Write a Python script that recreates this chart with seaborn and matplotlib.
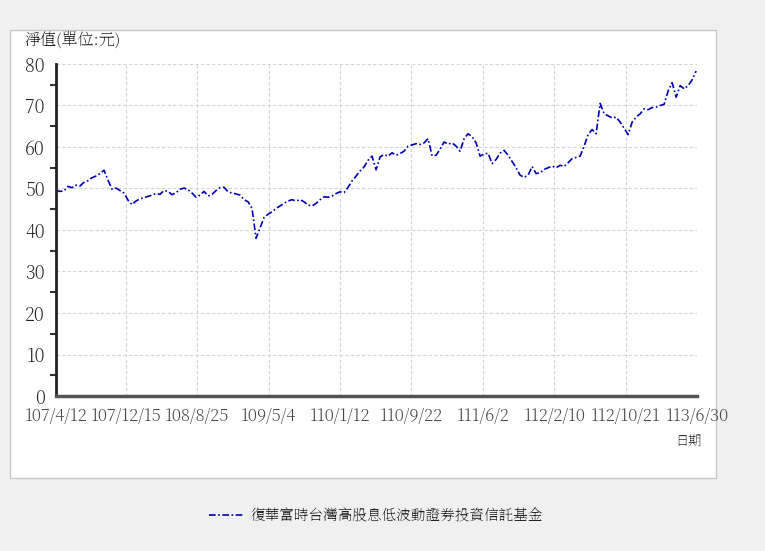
import numpy as np
import pandas as pd
import matplotlib
matplotlib.use("Agg")
import matplotlib.pyplot as plt
import matplotlib.patches as patches
from matplotlib.ticker import MultipleLocator
import seaborn as sns

# net asset value, evenly spaced in time
nav = [
    49.6, 49.3, 49.4, 50.5, 50.2, 50.8, 50.6, 51.5, 51.9, 52.6,
    53.0, 53.6, 54.4, 52.0, 49.8, 50.1, 49.5, 48.9, 47.2, 46.1,
    47.0, 47.5, 47.8, 48.1, 48.4, 48.8, 48.6, 49.5, 49.3, 48.5,
    49.0, 49.8, 50.1, 49.7, 48.9, 47.9, 48.4, 49.3, 48.2, 48.6,
    49.5, 50.2, 50.3, 49.2, 48.9, 48.7, 48.4, 47.3, 46.8, 45.2,
    38.0, 40.5, 43.0, 43.8, 44.4, 45.2, 45.8, 46.4, 47.0, 47.3,
    47.0, 47.3, 46.8, 46.0, 45.8, 46.4, 47.3, 48.0, 47.9, 48.2,
    48.8, 49.2, 49.0, 50.3, 51.8, 53.0, 54.2, 55.2, 56.8, 57.8,
    54.5, 57.6, 58.2, 57.8, 58.6, 58.0, 58.4, 59.0, 60.2, 60.5,
    60.8, 60.6, 61.0, 62.0, 57.9, 58.0, 59.5, 61.2, 60.7, 61.0,
    60.2, 59.0, 62.0, 63.2, 62.5, 61.0, 57.8, 58.3, 58.5, 56.0,
    57.0, 58.5, 59.2, 58.0, 56.5, 55.0, 53.2, 52.7, 53.2, 55.3,
    53.6, 53.8, 54.6, 55.0, 55.4, 55.0, 55.6, 55.3, 56.2, 57.2,
    57.5, 57.8, 60.2, 63.0, 64.2, 63.2, 70.5, 68.0, 67.5, 67.0,
    67.2, 66.0, 64.5, 63.0, 66.0, 67.2, 68.0, 69.2, 69.0, 69.5,
    69.6, 70.0, 70.3, 73.5, 75.5, 72.0, 74.8, 74.0, 74.8, 76.2,
    78.3,
]
start_date = "2018-04-12"
end_date = "2024-06-27"

tick_dates = ["2018-04-12", "2018-12-15", "2019-08-25", "2020-05-04", "2021-01-12",
              "2021-09-22", "2022-06-02", "2023-02-10", "2023-10-21", "2024-06-30"]
tick_labels = ["107/4/12", "107/12/15", "108/8/25", "109/5/4", "110/1/12",
               "110/9/22", "111/6/2", "112/2/10", "112/10/21", "113/6/30"]

series_name = "復華富時台灣高股息低波動證券投資信託基金"

sns.set_theme(style="whitegrid")
plt.rcParams['font.family'] = ['Noto Serif TC', 'Noto Sans CJK TC', 'DejaVu Sans']

df = pd.DataFrame({
    "date": pd.date_range(start_date, end_date, periods=len(nav)),
    "nav": nav,
})

W, H = 765, 551
fig = plt.figure(figsize=(W / 100, H / 100), dpi=100)
fig.patch.set_facecolor("#f0f0f0")
panel = patches.Rectangle((10 / W, 1 - 478 / H), 706 / W, 448 / H,
                          transform=fig.transFigure, facecolor="white",
                          edgecolor="#c8c8c8", linewidth=1, zorder=-10)
fig.patches.append(panel)

ax = fig.add_axes([56 / W, 1 - 396 / H, 641 / W, 332 / H])
ax.set_zorder(1)
ax.set_facecolor("white")
sns.lineplot(data=df, x="date", y="nav", ax=ax, color="#0000b0", linewidth=1.2,
             linestyle=(0, (4, 1.5, 1, 1.5)), label=series_name, legend=False)

ax.set_xlim(pd.Timestamp("2018-04-12"), pd.Timestamp("2024-06-30"))
ax.set_ylim(0, 80)
ax.yaxis.set_major_locator(MultipleLocator(10))
ax.yaxis.set_minor_locator(MultipleLocator(5))
ax.set_xticks(pd.to_datetime(tick_dates))
ax.set_xticklabels(tick_labels)
ax.set_xlabel("")
ax.set_ylabel("")

ax.grid(True, which="major", color="#d4d4d4", linestyle=(0, (3, 2)), linewidth=0.8)
ax.grid(False, which="minor")
for side in ["top", "right"]:
    ax.spines[side].set_visible(False)
ax.spines["left"].set_color("#222222")
ax.spines["left"].set_linewidth(2)
ax.spines["bottom"].set_color("#555555")
ax.spines["bottom"].set_linewidth(2.5)

ax.tick_params(axis="both", which="major", direction="out", length=6, width=1.5,
               colors="#333333", labelcolor="#444444")
ax.tick_params(axis="x", labelsize=12, pad=2)
ax.tick_params(axis="y", labelsize=13, labelcolor="#222222", pad=2)
ax.tick_params(axis="y", which="minor", direction="out", length=4, width=1.5,
               colors="#333333", left=True)

fig.text(24 / W, 1 - 40 / H, "淨值(單位:元)", fontsize=11.5, color="#222222",
         va="center", ha="left")
fig.text(689 / W, 1 - 442 / H, "日期", fontsize=9.5, color="#333333",
         va="center", ha="center")

handles, labels = ax.get_legend_handles_labels()
leg = fig.legend(handles, labels, loc="center", bbox_to_anchor=(376 / W, 1 - 516 / H),
                 frameon=False, handlelength=2.4, handletextpad=0.5,
                 prop={"size": 10.5})
for t in leg.get_texts():
    t.set_color("#222222")

fig.savefig("out.png", dpi=100, facecolor=fig.get_facecolor())
